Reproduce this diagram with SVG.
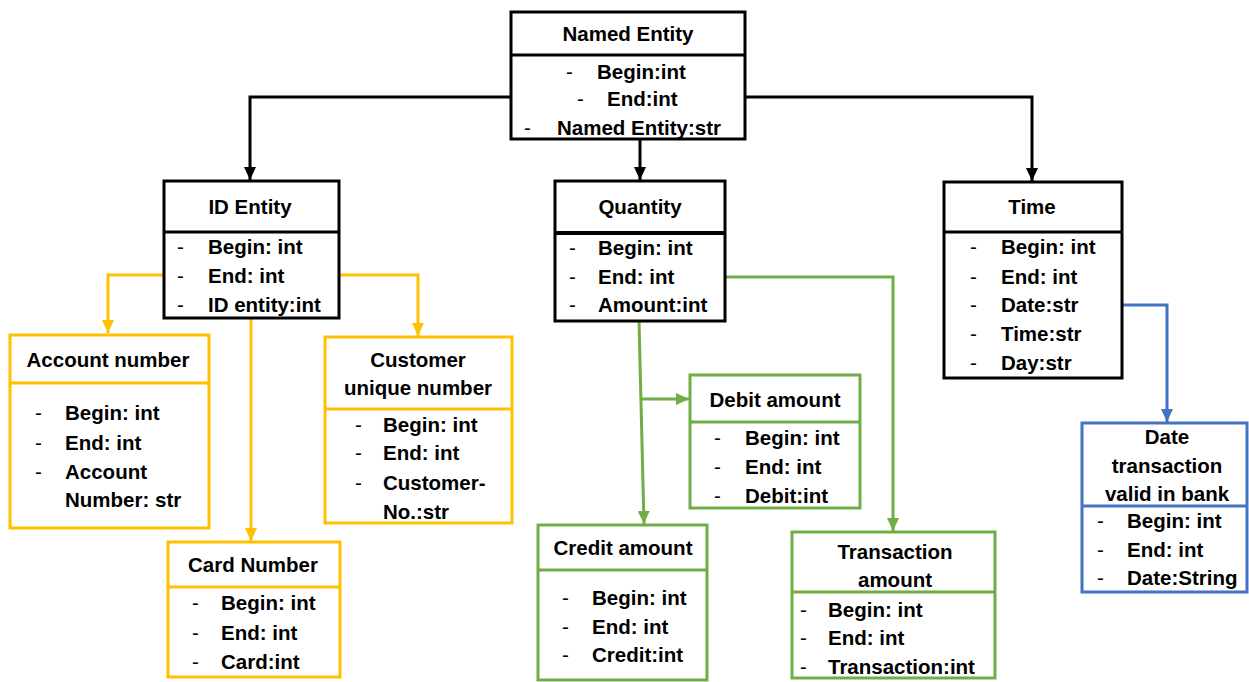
<svg xmlns="http://www.w3.org/2000/svg" width="1249" height="682" viewBox="0 0 1249 682">
<style>
text{font-family:"Liberation Sans",Arial,sans-serif;font-weight:bold;font-size:20.5px;fill:#000}
.t{text-anchor:middle}
.d{font-weight:normal}
.box{fill:#fff;stroke-width:3}
.k{stroke:#000}
.y{stroke:#FFC000}
.g{stroke:#70AD47}
.b{stroke:#4472C4}
.c{fill:none;stroke-width:3}
</style>
<defs>
<marker id="ak" markerUnits="userSpaceOnUse" markerWidth="14" markerHeight="12" refX="13" refY="6" orient="auto"><path d="M0,0 L13,6 L0,12 Z" fill="#000"/></marker>
<marker id="ay" markerUnits="userSpaceOnUse" markerWidth="14" markerHeight="12" refX="13" refY="6" orient="auto"><path d="M0,0 L13,6 L0,12 Z" fill="#FFC000"/></marker>
<marker id="ag" markerUnits="userSpaceOnUse" markerWidth="14" markerHeight="12" refX="13" refY="6" orient="auto"><path d="M0,0 L13,6 L0,12 Z" fill="#70AD47"/></marker>
<marker id="ab" markerUnits="userSpaceOnUse" markerWidth="14" markerHeight="12" refX="13" refY="6" orient="auto"><path d="M0,0 L13,6 L0,12 Z" fill="#4472C4"/></marker>
</defs>

<g id="connectors">
<path class="c k" d="M511,97 H250 V180" marker-end="url(#ak)"/>
<path class="c k" d="M745,97 H1032 V181" marker-end="url(#ak)"/>
<path class="c k" d="M640,140 V180" marker-end="url(#ak)"/>
<path class="c y" d="M164,275 H108 V333" marker-end="url(#ay)"/>
<path class="c y" d="M339,275 H418 V336" marker-end="url(#ay)"/>
<path class="c y" d="M251,318 V541" marker-end="url(#ay)"/>
<path class="c g" d="M639,321 L644,524" marker-end="url(#ag)"/>
<path class="c g" d="M640,399 H689" marker-end="url(#ag)"/>
<path class="c g" d="M725,277 H893 V531" marker-end="url(#ag)"/>
<path class="c b" d="M1122,305 H1167 V422" marker-end="url(#ab)"/>
</g>

<g id="named-entity">
<rect class="box k" x="511" y="12" width="234" height="127"/>
<line class="k" stroke-width="3" x1="511" y1="55" x2="745" y2="55"/>
<text class="t" x="628" y="41">Named Entity</text>
<text class="d" x="566" y="79">-</text><text x="597" y="79">Begin:int</text>
<text class="d" x="577" y="106">-</text><text x="607" y="106">End:int</text>
<text class="d" x="524" y="135">-</text><text x="557" y="135">Named Entity:str</text>
</g>

<g id="id-entity">
<rect class="box k" x="164" y="181" width="175" height="137"/>
<line class="k" stroke-width="3" x1="164" y1="232" x2="339" y2="232"/>
<text class="t" x="250" y="214">ID Entity</text>
<text class="d" x="177" y="254">-</text><text x="208" y="254">Begin: int</text>
<text class="d" x="177" y="283">-</text><text x="208" y="283">End: int</text>
<text class="d" x="177" y="312">-</text><text x="208" y="312">ID entity:int</text>
</g>

<g id="quantity">
<rect class="box k" x="555" y="181" width="170" height="140"/>
<line class="k" stroke-width="4" x1="555" y1="233" x2="725" y2="233"/>
<text class="t" x="640" y="214">Quantity</text>
<text class="d" x="569" y="255">-</text><text x="598" y="255">Begin: int</text>
<text class="d" x="569" y="284">-</text><text x="598" y="284">End: int</text>
<text class="d" x="569" y="312">-</text><text x="598" y="312">Amount:int</text>
</g>

<g id="time">
<rect class="box k" x="944" y="182" width="178" height="196"/>
<line class="k" stroke-width="3" x1="944" y1="232" x2="1122" y2="232"/>
<text class="t" x="1032" y="214">Time</text>
<text class="d" x="970" y="254">-</text><text x="1001" y="254">Begin: int</text>
<text class="d" x="970" y="284">-</text><text x="1001" y="284">End: int</text>
<text class="d" x="970" y="312">-</text><text x="1001" y="312">Date:str</text>
<text class="d" x="970" y="341">-</text><text x="1001" y="341">Time:str</text>
<text class="d" x="970" y="370">-</text><text x="1001" y="370">Day:str</text>
</g>

<g id="account-number">
<rect class="box y" x="10" y="335" width="199" height="193"/>
<line class="y" stroke-width="3" x1="10" y1="383" x2="209" y2="383"/>
<text class="t" x="108" y="367">Account number</text>
<text class="d" x="35" y="420">-</text><text x="65" y="420">Begin: int</text>
<text class="d" x="35" y="450">-</text><text x="65" y="450">End: int</text>
<text class="d" x="35" y="479">-</text><text x="65" y="479">Account</text>
<text x="65" y="507">Number: str</text>
</g>

<g id="customer-unique-number">
<rect class="box y" x="325" y="337" width="187" height="186"/>
<line class="y" stroke-width="3" x1="325" y1="409" x2="512" y2="409"/>
<text class="t" x="418" y="367">Customer</text>
<text class="t" x="418" y="395">unique number</text>
<text class="d" x="355" y="432">-</text><text x="383" y="432">Begin: int</text>
<text class="d" x="355" y="460">-</text><text x="383" y="460">End: int</text>
<text class="d" x="355" y="490">-</text><text x="383" y="490">Customer-</text>
<text x="383" y="519">No.:str</text>
</g>

<g id="card-number">
<rect class="box y" x="168" y="542" width="172" height="135"/>
<line class="y" stroke-width="3" x1="168" y1="587" x2="340" y2="587"/>
<text class="t" x="253" y="572">Card Number</text>
<text class="d" x="192" y="610">-</text><text x="221" y="610">Begin: int</text>
<text class="d" x="192" y="640">-</text><text x="221" y="640">End: int</text>
<text class="d" x="192" y="669">-</text><text x="221" y="669">Card:int</text>
</g>

<g id="debit-amount">
<rect class="box g" x="690" y="375" width="170" height="133"/>
<line class="g" stroke-width="3" x1="690" y1="422" x2="860" y2="422"/>
<text class="t" x="775" y="407">Debit amount</text>
<text class="d" x="714" y="445">-</text><text x="745" y="445">Begin: int</text>
<text class="d" x="714" y="474">-</text><text x="745" y="474">End: int</text>
<text class="d" x="714" y="503">-</text><text x="745" y="503">Debit:int</text>
</g>

<g id="credit-amount">
<rect class="box g" x="538" y="525" width="169" height="155"/>
<line class="g" stroke-width="3" x1="538" y1="570" x2="707" y2="570"/>
<text class="t" x="623" y="555">Credit amount</text>
<text class="d" x="562" y="605">-</text><text x="592" y="605">Begin: int</text>
<text class="d" x="562" y="634">-</text><text x="592" y="634">End: int</text>
<text class="d" x="562" y="662">-</text><text x="592" y="662">Credit:int</text>
</g>

<g id="transaction-amount">
<rect class="box g" x="792" y="532" width="203" height="146"/>
<line class="g" stroke-width="3" x1="792" y1="592" x2="995" y2="592"/>
<text class="t" x="895" y="559">Transaction</text>
<text class="t" x="895" y="587">amount</text>
<text class="d" x="800" y="617">-</text><text x="828" y="617">Begin: int</text>
<text class="d" x="800" y="645">-</text><text x="828" y="645">End: int</text>
<text class="d" x="800" y="674">-</text><text x="828" y="674">Transaction:int</text>
</g>

<g id="date-transaction-valid">
<rect class="box b" x="1082" y="423" width="165" height="169"/>
<line class="b" stroke-width="3" x1="1082" y1="506" x2="1247" y2="506"/>
<text class="t" x="1167" y="444">Date</text>
<text class="t" x="1167" y="473">transaction</text>
<text class="t" x="1167" y="501">valid in bank</text>
<text class="d" x="1097" y="528">-</text><text x="1127" y="528">Begin: int</text>
<text class="d" x="1097" y="557">-</text><text x="1127" y="557">End: int</text>
<text class="d" x="1097" y="585">-</text><text x="1127" y="585">Date:String</text>
</g>
</svg>
